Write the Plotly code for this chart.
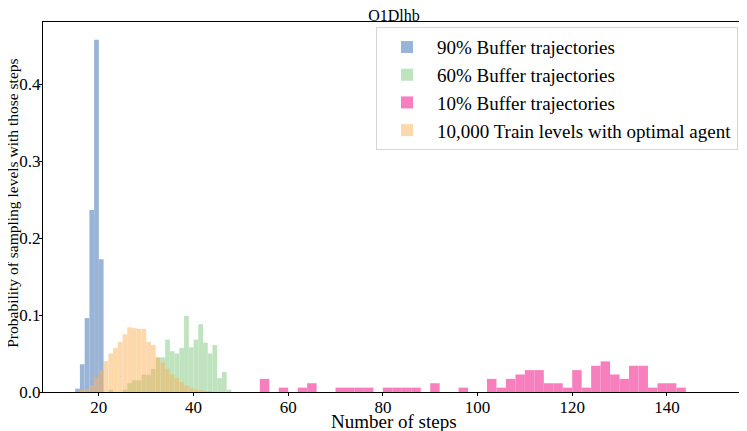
import numpy as np
import plotly.graph_objects as go

# -- Daten ---------------------------------------------------------------------
# Histogramme: linke Bin-Kante + Höhe (Dichte)
blue_start = 15      # 90% Buffer, Binbreite 1
blue_heights = [0.0043, 0.036, 0.096, 0.2365, 0.4577, 0.1725]

green_start = 22     # 60% Buffer, Binbreite 1
green_heights = [0.003, 0.0, 0.0, 0.003, 0.0115, 0.015, 0.015, 0.0225, 0.0225,
                 0.030, 0.045, 0.045, 0.068, 0.053, 0.050, 0.057, 0.099, 0.058,
                 0.068, 0.088, 0.064, 0.050, 0.061, 0.018, 0.026, 0.003]

pink_start = 54      # 10% Buffer, Binbreite 2
pink_counts = [3, 0, 1, 0, 1, 2, 0, 0, 1, 1, 1, 1, 0, 1, 1, 1, 1, 0, 2, 0, 0,
               1, 0, 0, 3, 1, 3, 4, 5, 5, 2, 2, 1, 5, 1, 6, 7, 4, 3, 6, 6, 1,
               2, 2, 1]
pink_total = 88

orange_start = 16    # 10.000 Train-Level, Binbreite 1
orange_heights = [0.002, 0.004, 0.009, 0.020, 0.028, 0.040, 0.050, 0.057,
                  0.065, 0.075, 0.084, 0.083, 0.082, 0.082, 0.065, 0.061,
                  0.045, 0.038, 0.030, 0.023, 0.018, 0.0128, 0.0085, 0.005,
                  0.003, 0.0017, 0.001, 0.0005]

names = ["90% Buffer trajectories", "60% Buffer trajectories",
         "10% Buffer trajectories", "10,000 Train levels with optimal agent"]
colors = ["#386cb0", "#7fc97f", "#f0027f", "#fdb25a"]

x_ticks = [20, 40, 60, 80, 100, 120, 140]
y_ticks = [0.0, 0.1, 0.2, 0.3, 0.4]

# -- Hilfsfunktion ---------------------------------------------------------------
def centers(start, n, width):
    """Mittelpunkte der Bins ab linker Kante start"""
    return start + width * (np.arange(n) + 0.5)

pink_heights = np.array(pink_counts) / (pink_total * 2)

series = [
    (centers(blue_start, len(blue_heights), 1), blue_heights, 1),
    (centers(green_start, len(green_heights), 1), green_heights, 1),
    (centers(pink_start, len(pink_heights), 2), pink_heights, 2),
    (centers(orange_start, len(orange_heights), 1), orange_heights, 1),
]

FONT = "Liberation Serif"

fig = go.Figure()
for (xc, h, w), name, col in zip(series, names, colors):
    fig.add_trace(go.Bar(
        x=xc, y=h, width=w, name=name,
        marker=dict(color=col, line=dict(width=0)),
        opacity=0.5,
    ))

# -- Layout ----------------------------------------------------------------------
# Seite hat 8px Body-Rand -> Figur um 8px kleiner, Ränder entsprechend
fig.update_layout(
    width=739, height=423,
    barmode="overlay",
    template="simple_white",
    font=dict(family=FONT, size=18, color="black"),
    margin=dict(l=35, r=2, t=14, b=39, autoexpand=False),
    title=dict(text="O1Dlhb", xref="paper", x=0.5, xanchor="center",
               yref="paper", y=1, yanchor="bottom", pad=dict(b=1),
               font=dict(size=16)),
    legend=dict(
        x=0.99, xanchor="right", y=0.986, yanchor="top",
        bordercolor="#d5d5d5", borderwidth=1, bgcolor="rgba(255,255,255,0.8)",
        font=dict(size=19), tracegroupgap=0, itemwidth=50,
    ),
)

axis_style = dict(
    showline=True, linecolor="black", linewidth=1, mirror=True,
    ticks="outside", ticklen=3, tickcolor="black", showgrid=False,
    automargin=False, tickfont=dict(size=17),
)
fig.update_xaxes(range=[8.2, 156.5], tickvals=x_ticks, ticklabelstandoff=-3,
                 **axis_style)
fig.update_yaxes(range=[0, 0.4806], tickvals=y_ticks, tickformat=".1f",
                 ticklabelstandoff=-5, **axis_style)

# Achsentitel als Annotationen (feste Position)
fig.add_annotation(text="Number of steps", xref="paper", yref="paper",
                   x=0.5, y=-0.081, yanchor="middle", showarrow=False,
                   font=dict(size=19))
fig.add_annotation(text="Probability of sampling levels with those steps",
                   xref="paper", yref="paper", x=-0.0435, y=0.51,
                   xanchor="center", yanchor="middle", textangle=-90,
                   showarrow=False, font=dict(size=15.5))

fig.write_html("out.html")
